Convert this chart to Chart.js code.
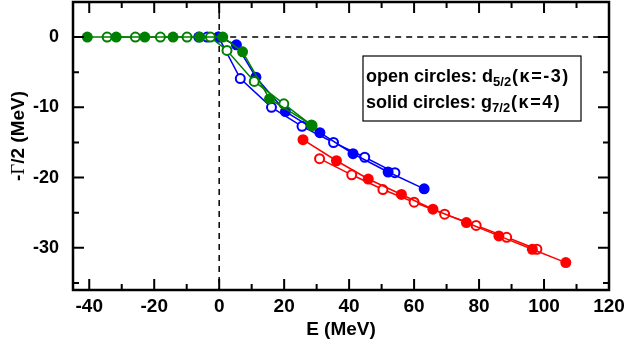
<!DOCTYPE html>
<html><head><meta charset="utf-8">
<script src="https://cdn.jsdelivr.net/npm/chart.js@4/dist/chart.umd.min.js"></script>
<style>html,body{margin:0;padding:0;background:#fff}#wrap{width:625px;height:348px}</style>
</head><body><div id="wrap"><canvas id="c" width="625" height="348"></canvas></div>
<script>
// ---- data (E in MeV, -Gamma/2 in MeV) ----
const xTickValues = [-40, -20, 0, 20, 40, 60, 80, 100, 120];
const yTickValues = [0, -10, -20, -30];

const greenSolidE = [-40.6, -31.7, -22.9, -14.2, -6.0, 1.1, 7.2, 15.5, 28.4];
const greenSolidG = [0, 0, 0, 0, 0, 0, -2.1, -8.8, -12.5];
const greenOpenE  = [-34.5, -25.8, -18.1, -9.9, -2.7, 2.4, 10.8, 19.9, 28.6];
const greenOpenG  = [0, 0, 0, 0, 0, -1.9, -6.3, -9.5, -12.6];

const blueSolidE = [-6.3, -0.3, 5.3, 11.3, 20.4, 31.0, 41.2, 52.0, 63.1];
const blueSolidG = [0, 0, -1.1, -5.7, -10.6, -13.6, -16.6, -19.2, -21.6];
const blueOpenE  = [-3.7, -0.2, 6.5, 16.1, 25.5, 35.2, 44.8, 54.1];
const blueOpenG  = [0, 0, -5.9, -10.0, -12.7, -15.0, -17.1, -19.3];

const redSolidE = [25.8, 36.1, 45.9, 56.1, 65.8, 76.1, 86.1, 96.4, 106.7];
const redSolidG = [-14.6, -17.6, -20.2, -22.4, -24.5, -26.4, -28.3, -30.2, -32.1];
const redOpenE  = [30.9, 40.8, 50.4, 60.0, 69.4, 79.1, 88.5, 97.8];
const redOpenG  = [-17.3, -19.6, -21.7, -23.5, -25.2, -26.8, -28.5, -30.2];

const pts = (xs, ys) => xs.map((x, i) => ({x, y: ys[i]}));

const GREEN = '#008000', BLUE = '#0000ff', RED = '#ff0000';
function ds(xs, ys, color, solid) {
  return {
    data: pts(xs, ys), showLine: true, borderColor: color, borderWidth: 1.5,
    pointRadius: solid ? 5.5 : 4.5, pointHoverRadius: solid ? 5.5 : 4.5,
    pointBackgroundColor: solid ? color : '#fff', pointBorderColor: color,
    pointBorderWidth: solid ? 0 : 2, tension: 0
  };
}

const SANS = '"Liberation Sans", Arial, sans-serif';
const AREA_TOP = 2;

const framePlugin = {
  id: 'frame',
  afterLayout(chart) {
    // point-overflow padding pushes the plot area down; pin its top edge
    const y = chart.scales.y, ca = chart.chartArea;
    ca.top = AREA_TOP; ca.height = ca.bottom - ca.top;
    y.top = AREA_TOP; y.height = y.bottom - y.top;
    y.configure();
  },
  beforeDatasetsDraw(chart) {
    const {ctx, chartArea: a, scales: {x, y}} = chart;
    ctx.save();
    ctx.strokeStyle = '#000'; ctx.lineWidth = 1.5; ctx.setLineDash([6, 5]);
    const x0 = x.getPixelForValue(0), y0 = y.getPixelForValue(0);
    ctx.beginPath(); ctx.moveTo(x0, a.top); ctx.lineTo(x0, a.bottom); ctx.stroke();
    ctx.beginPath(); ctx.moveTo(x0, y0); ctx.lineTo(a.right, y0); ctx.stroke();
    ctx.restore();
  },
  afterDraw(chart) {
    const {ctx, chartArea: a, scales: {x, y}} = chart;
    ctx.save();
    ctx.strokeStyle = '#000'; ctx.lineWidth = 2.5; ctx.setLineDash([]);
    ctx.strokeRect(a.left, a.top, a.right - a.left, a.bottom - a.top);
    ctx.lineWidth = 2;
    const majL = 11, minL = 6;
    for (let v = -40; v <= 120; v += 10) {
      const px = x.getPixelForValue(v);
      if (px <= a.left + 1 || px >= a.right - 1) continue;
      const L = (v % 20 === 0) ? majL : minL;
      ctx.beginPath(); ctx.moveTo(px, a.bottom); ctx.lineTo(px, a.bottom - L);
      ctx.moveTo(px, a.top); ctx.lineTo(px, a.top + L); ctx.stroke();
    }
    for (let v = -35; v <= 5; v += 5) {
      const py = y.getPixelForValue(v);
      if (py <= a.top + 1 || py >= a.bottom - 1) continue;
      const L = (v % 10 === 0) ? majL : minL;
      ctx.beginPath(); ctx.moveTo(a.left, py); ctx.lineTo(a.left + L, py);
      ctx.moveTo(a.right, py); ctx.lineTo(a.right - L, py); ctx.stroke();
    }
    // axis titles
    ctx.fillStyle = '#000';
    ctx.font = 'bold 19px ' + SANS; ctx.textAlign = 'center'; ctx.textBaseline = 'middle';
    ctx.fillText('E (MeV)', (a.left + a.right) / 2, 330);
    // y title
    ctx.save();
    ctx.translate(19, 136); ctx.rotate(-Math.PI / 2);
    const parts = [['-', 'bold 19px ' + SANS], ['\u0393', '19px "Liberation Serif", serif'], ['/2 (MeV)', 'bold 19px ' + SANS]];
    let tw = 0; parts.forEach(p => { ctx.font = p[1]; tw += ctx.measureText(p[0]).width; });
    let cx = -tw / 2; ctx.textAlign = 'left';
    parts.forEach(p => { ctx.font = p[1]; ctx.fillText(p[0], cx, 0); cx += ctx.measureText(p[0]).width; });
    ctx.restore();
    // legend box
    ctx.lineWidth = 1.2; ctx.strokeStyle = '#000';
    ctx.strokeRect(363, 56, 218, 65);
    ctx.textAlign = 'left'; ctx.textBaseline = 'alphabetic';
    function line(xp, yp, a1, sub, a2) {
      ctx.letterSpacing = '0px';
      ctx.font = 'bold 18px ' + SANS; ctx.fillText(a1, xp, yp); xp += ctx.measureText(a1).width;
      ctx.font = 'bold 13px ' + SANS; ctx.fillText(sub, xp, yp + 4); xp += ctx.measureText(sub).width + 1;
      ctx.font = 'bold 18px ' + SANS; ctx.letterSpacing = '1.5px'; ctx.fillText(a2, xp, yp);
      ctx.letterSpacing = '0px';
    }
    line(366, 82, 'open circles: d', '5/2', '(\u03ba=-3)');
    line(366, 108, 'solid circles: g', '7/2', '(\u03ba=4)');
    ctx.restore();
  }
};

new Chart(document.getElementById('c'), {
  type: 'scatter',
  data: { datasets: [
    ds(greenSolidE, greenSolidG, GREEN, true),
    ds(greenOpenE, greenOpenG, GREEN, false),
    ds(blueSolidE, blueSolidG, BLUE, true),
    ds(blueOpenE, blueOpenG, BLUE, false),
    ds(redSolidE, redSolidG, RED, true),
    ds(redOpenE, redOpenG, RED, false)
  ]},
  options: {
    responsive: false, animation: false, devicePixelRatio: 1,
    layout: { padding: { left: 0, right: 16, top: 2, bottom: 0 } },
    plugins: { legend: { display: false }, tooltip: { enabled: false } },
    scales: {
      x: { type: 'linear', min: -45, max: 120,
        afterBuildTicks: s => { s.ticks = xTickValues.map(v => ({value: v})); },
        afterFit: s => { s.height = 58; s.paddingLeft = 0; s.paddingRight = 0; },
        grid: { display: false, drawTicks: false }, border: { display: false },
        ticks: { padding: 5, color: '#000', font: { family: SANS, size: 19, weight: 'bold' }, maxRotation: 0 } },
      y: { type: 'linear', min: -36, max: 5,
        afterBuildTicks: s => { s.ticks = yTickValues.map(v => ({value: v})); },
        afterFit: s => { s.width = 73; s.paddingTop = 0; s.paddingBottom = 0; },
        grid: { display: false, drawTicks: false }, border: { display: false },
        ticks: { padding: 14, color: '#000', font: { family: SANS, size: 18, weight: 'bold' } } }
    }
  },
  plugins: [framePlugin]
});
</script></body></html>
